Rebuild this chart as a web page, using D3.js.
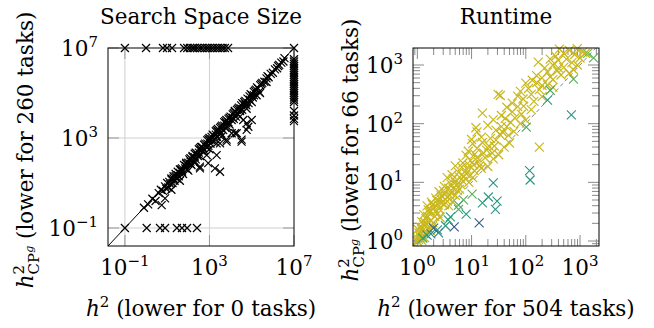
<!DOCTYPE html>
<html>
<head>
<meta charset="utf-8">
<script src="https://cdn.jsdelivr.net/npm/d3@7"></script>
<style>
  body { margin: 0; background: #fff; }
</style>
</head>
<body>
<div id="chart"></div>
<script>
// all values are log10 exponents

// search space size: h2 (x) vs h2_CPg (y)
const searchTopRow = [-1, 0.0, 0.8, 0.99, 1.23, 1.8, 1.95, 2.08, 2.2, 2.3, 2.42, 2.55, 2.65, 2.79, 2.9, 3.02, 3.14, 3.26, 3.38, 3.5, 3.62, 3.73, 3.88, 7]
const searchRightCol = [6.5, 6.4, 6.3, 6.2, 6.1, 6.0, 5.9, 5.8, 5.7, 5.6, 5.5, 5.4, 5.3, 5.2, 5.1, 5.0, 4.9, 4.8, 4.7, 4.6, 4.2, 4.0, 3.85, 3.75]
const searchBottomRow = [-1, 0.03, 0.66, 0.9, 1.46, 1.7, 1.94, 2.41]
const searchDiagonal = [
  [-0.1,-0.1],[0.1,0.05],[0.3,0.3],[0.45,0.2],[0.6,0.55],[0.7,0.7],[0.8,0.65],[0.9,0.85],[1.0,1.0],[1.05,0.8],
  [1.1,1.05],[1.2,1.15],[1.25,1.0],[1.3,1.3],[1.4,1.3],[1.45,1.2],[1.5,1.5],[1.6,1.45],[1.65,1.6],[1.7,1.5],
  [1.8,1.8],[1.85,1.65],[1.9,1.85],[2.0,1.9],[2.05,2.05],[2.1,1.85],[2.2,2.15],[2.25,2.0],[2.3,2.3],[2.4,2.3],
  [2.45,2.2],[2.5,2.5],[2.6,2.45],[2.65,2.6],[2.7,2.4],[2.8,2.75],[2.85,2.6],[2.9,2.9],[3.0,2.9],[3.05,2.75],
  [3.1,3.05],[3.2,3.1],[3.25,2.95],[3.3,3.3],[3.4,3.3],[3.45,3.15],[3.5,3.45],[3.6,3.55],[3.65,3.35],[3.7,3.7],
  [3.8,3.65],[3.85,3.5],[3.9,3.85],[4.0,3.95],[4.05,3.8],[4.1,4.05],[4.2,4.15],[4.25,3.95],[4.3,4.25],[4.4,4.35],
  [4.45,4.2],[4.5,4.45],[4.6,4.5],[4.7,4.65],[4.75,4.45],[4.8,4.75],[4.9,4.85],[5.0,4.9],[5.05,4.8],[5.1,5.05],
  [5.2,5.15],[5.3,5.2],[5.35,5.05],[5.4,5.35],[5.5,5.45],[5.6,5.5],[5.7,5.65],[5.8,5.7],[5.9,5.85],[6.0,5.9],
  [6.1,6.05],[6.2,6.1],[6.3,6.25],[6.4,6.35],[6.5,6.4],
  [0.95,0.75],[1.15,0.95],[1.35,1.1],[1.55,1.3],[1.75,1.4],[1.95,1.6],[2.15,1.8],[2.35,2.05],[2.55,2.2],[2.75,2.45],
  [2.95,2.65],[3.15,2.85],[3.35,3.05],[3.55,3.2],[3.75,3.45],[3.95,3.6],[4.15,3.85],[4.35,4.05],[4.55,4.25],[4.85,4.55],
  [1.4,1.4],[1.6,1.6],[1.9,1.9],[2.1,2.1],[2.35,2.35],[2.55,2.55],[2.75,2.7],[2.95,2.95],[3.15,3.15],[3.35,3.35],
  [3.55,3.5],[3.75,3.75],[3.95,3.9],[4.15,4.1],[4.35,4.3],[4.55,4.55],[4.65,4.6],[4.95,4.95],[5.15,5.1],[5.45,5.4],
  [1.2,1.2],[1.7,1.65],[2.2,2.2],[2.6,2.6],[3.0,3.0],[3.4,3.4],[3.8,3.8],[4.2,4.2],[5.25,5.25],[5.75,5.75],[6.25,6.2],[6.55,6.55],
  [1.3,1.2],[1.5,1.35],[1.7,1.55],[1.9,1.75],[2.1,1.95],[2.3,2.15],[2.5,2.35],[2.7,2.55],[2.9,2.75],[3.1,2.95],
  [3.3,3.15],[3.5,3.3],[3.7,3.55],[3.9,3.7],[4.1,3.9],[4.3,4.1],[4.5,4.3],[4.7,4.5],[4.9,4.7],[5.1,4.9]
]
const searchBelow = [
  [4.21,3.21],[4.76,3.65],[4.44,3.95],[4.84,3.5],[4.52,2.84],[3.34,2.24],[2.55,1.73],[4.6,3.8],[5.0,3.8],[4.29,3.21],
  [4.76,3.36],[4.52,2.93],[3.81,2.93],[4.05,3.21],[3.5,2.76],[3.34,2.76],[3.81,2.84],[2.87,2.24],[2.94,1.88],[2.55,1.65],
  [3.26,1.65],[3.5,1.5],[0.74,0.02],[0.9,0.32],[5.23,4.9],[5.0,4.6],[4.76,4.3],[5.7,5.49],[5.39,5.0],[3.0,2.5],
  [3.6,3.1],[2.3,1.9],[2.0,1.55],[1.6,1.1],[1.2,0.7]
]

// runtime: h2 (x) vs h2_CPg (y); shade 0 = dark blue .. 1 = yellow
const runtimeYellow = [
  [0.02,0.03],[0.06,0.05],[0.1,0.08],[0.04,0.09],[0.13,0.06],[0.0,0.0],[0.08,0.01],
  [0.03,0.14],[0.09,0.17],[0.15,0.12],[0.2,0.22],[0.05,0.24],[0.12,0.27],[0.24,0.18],[0.17,0.29],[0.28,0.25],[0.01,0.2],
  [0.08,0.33],[0.16,0.38],[0.25,0.35],[0.32,0.42],[0.12,0.45],[0.22,0.48],[0.38,0.47],[0.29,0.31],[0.42,0.4],
  [0.2,0.53],[0.3,0.57],[0.4,0.55],[0.5,0.62],[0.26,0.66],[0.36,0.69],[0.58,0.6],[0.45,0.65],[0.65,0.67],[0.18,0.6],
  [0.34,0.73],[0.44,0.77],[0.55,0.75],[0.62,0.82],[0.48,0.86],[0.7,0.78],[0.78,0.88],[0.4,0.84],[0.58,0.9],
  [0.5,0.93],[0.62,0.97],[0.72,0.95],[0.84,1.02],[0.66,1.06],[0.95,1.0],[0.55,1.08],[0.78,1.09],[1.02,1.08],
  [0.64,1.13],[0.76,1.17],[0.9,1.15],[1.05,1.2],[0.82,1.26],[1.18,1.24],[0.7,1.28],[0.96,1.29],[1.3,1.27],
  [0.84,1.33],[0.98,1.37],[1.12,1.35],[1.25,1.42],[0.9,1.46],[1.4,1.4],[1.06,1.48],[1.5,1.47],
  [0.94,1.53],[1.1,1.58],[1.28,1.55],[1.42,1.62],[1.02,1.66],[1.6,1.6],[1.2,1.68],[1.7,1.67],
  [1.0,1.73],[1.18,1.77],[1.35,1.75],[1.52,1.82],[1.68,1.8],[1.1,1.86],[1.78,1.87],[1.45,1.89],
  [1.08,1.93],[1.3,1.97],[1.55,1.95],[1.72,2.02],[1.9,2.0],[1.4,2.07],[2.0,2.06],[1.62,2.09],
  [1.2,2.18],[1.55,2.14],[1.75,2.2],[1.92,2.16],[2.1,2.24],[1.65,2.28],[1.85,2.29],
  [1.49,2.5],[1.53,2.48],[1.75,2.35],[1.95,2.42],[2.15,2.38],[2.3,2.46],[1.85,2.47],
  [1.9,2.55],[2.05,2.6],[2.25,2.58],[2.4,2.66],[2.0,2.69],[2.5,2.62],[2.2,2.7],
  [2.12,2.74],[2.3,2.78],[2.5,2.75],[2.65,2.83],[2.4,2.88],[2.8,2.86],[2.2,2.82],[2.58,2.9],
  [2.23,3.05],[2.35,2.95],[2.5,3.0],[2.7,2.96],[2.85,3.04],[2.6,3.08],[2.95,3.0],[2.45,3.1],
  [2.55,3.15],[2.7,3.2],[2.8,3.25],[2.9,3.18],[3.05,3.22],[2.62,3.27],[2.95,3.28],[3.1,3.2],
  [2.25,1.6],
  [0.05,0.12],[0.1,0.22],[0.14,0.32],[0.19,0.42],[0.24,0.52],[0.28,0.62],[0.33,0.5],[0.38,0.62],[0.43,0.72],[0.5,0.8],
  [0.55,0.68],[0.6,0.78],[0.66,0.9],[0.7,1.0],[0.74,0.86],[0.8,0.96],[0.86,1.1],[0.92,1.22],[0.98,1.12],[1.04,1.3],
  [1.1,1.42],[1.15,1.28],[1.22,1.5],[1.32,1.62],[1.38,1.5],[1.45,1.72],[1.58,1.85],[1.65,1.95],[1.8,2.1],[1.96,2.3],
  [2.1,2.5],[2.3,2.65],[2.45,2.8],[2.6,2.95],[2.75,3.1],[2.88,2.92],[3.0,3.12]
]
const runtimeShaded = [
  [2.07,1.2,0.4],[2.08,1.04,0.4],[1.4,0.99,0.4],[1.01,0.8,0.65],[1.2,0.65,0.5],[1.31,0.75,0.45],[1.47,0.68,0.4],
  [1.44,0.54,0.4],[1.14,0.31,0.12],[0.68,0.24,0.08],[0.9,0.46,0.45],[0.76,0.54,0.6],[0.85,0.7,0.65],[0.76,0.61,0.6],
  [0.57,0.36,0.5],[0.52,0.26,0.45],[0.37,0.19,0.4],[0.39,0.14,0.3],[0.3,0.22,0.15],[0.61,0.41,0.5],[0.18,0.1,0.4],
  [2.01,1.94,0.6],[2.4,2.4,0.45],[2.45,2.57,0.6],[2.84,2.15,0.4],[2.88,2.76,0.65],[3.14,3.2,0.75],[3.25,3.12,0.65],
  [0.1,0.05,0.5],[0.25,0.12,0.3]
]

const W = 654, H = 328
const FONT = '"DejaVu Serif", serif'
const FS = 21.5, FSS = 15
const shade = d3.scaleLinear()
  .domain([0, 0.25, 0.5, 0.75, 1])
  .range(["#3e3f8a", "#2f7d8c", "#2aa07a", "#7ab844", "#c9b81d"])

let svg = d3.select('#chart').append('svg')
  .attr('width', W).attr('height', H)
  .style('font-family', FONT)

function cross(s) {
  return `M${-s},${-s}L${s},${s}M${-s},${s}L${s},${-s}`
}

function txt(x, y, anchor) {
  return svg.append('text').attr('x', x).attr('y', y)
    .attr('text-anchor', anchor).attr('font-size', FS)
    .attr('font-family', FONT).attr('fill', '#000')
}

function powText(t, e) {
  t.append('tspan').text('10')
  t.append('tspan').attr('font-size', FSS).attr('dy', -9).text(e < 0 ? '\u2212' + (-e) : e)
}

function ylabel(x, y, tasks) {
  let t = txt(0, 0, 'middle').attr('transform', `translate(${x},${y}) rotate(-90)`)
  t.append('tspan').attr('font-style', 'italic').text('h')
  t.append('tspan').attr('font-size', FSS).attr('dy', -9).text('2')
  t.append('tspan').attr('font-size', FSS).attr('dx', -9.5).attr('dy', 15).text('CP')
  t.append('tspan').attr('font-size', 11).attr('font-style', 'italic').attr('dy', -6).text('g')
  t.append('tspan').attr('dy', 0).text(` (lower for ${tasks} tasks)`)
}

function xlabel(x, y, tasks) {
  let t = txt(x, y, 'middle')
  t.append('tspan').attr('font-style', 'italic').text('h')
  t.append('tspan').attr('font-size', FSS).attr('dy', -9).text('2')
  t.append('tspan').attr('dy', 9).text(` (lower for ${tasks} tasks)`)
}

// ---------- left: search space size ----------
let xL = d3.scaleLog().domain([10 ** -1.8, 1e7]).range([108, 294])
let yL = d3.scaleLog().domain([10 ** -1.8, 1e7]).range([246, 48])
let majorL = [-1, 3, 7]

let gL = svg.append('g')
gL.selectAll('.gx').data([-1, 3]).enter().append('line')
  .attr('x1', d => xL(10 ** d)).attr('x2', d => xL(10 ** d))
  .attr('y1', 48).attr('y2', 246).attr('stroke', '#cfcfcf')
gL.selectAll('.gy').data([-1, 3]).enter().append('line')
  .attr('y1', d => yL(10 ** d)).attr('y2', d => yL(10 ** d))
  .attr('x1', 108).attr('x2', 294).attr('stroke', '#cfcfcf')

// ticks (inside, both sides)
majorL.forEach(d => {
  let px = xL(10 ** d), py = yL(10 ** d)
  gL.append('line').attr('x1', px).attr('x2', px).attr('y1', 246).attr('y2', 235).attr('stroke', '#999')
  gL.append('line').attr('x1', px).attr('x2', px).attr('y1', 48).attr('y2', 59).attr('stroke', '#999')
  gL.append('line').attr('y1', py).attr('y2', py).attr('x1', 108).attr('x2', 119).attr('stroke', '#999')
  gL.append('line').attr('y1', py).attr('y2', py).attr('x1', 294).attr('x2', 283).attr('stroke', '#999')
})

gL.append('line')
  .attr('x1', xL(10 ** -1.8)).attr('y1', yL(10 ** -1.8))
  .attr('x2', xL(1e7)).attr('y2', yL(1e7))
  .attr('stroke', '#000')

let leftPts = []
searchTopRow.forEach(x => leftPts.push([x, 7]))
searchRightCol.forEach(y => leftPts.push([7, y]))
searchBottomRow.forEach(x => leftPts.push([x, -1]))
searchDiagonal.forEach(p => leftPts.push(p))
searchBelow.forEach(p => leftPts.push(p))

gL.selectAll('.mk').data(leftPts).enter().append('path')
  .attr('d', cross(4))
  .attr('transform', d => `translate(${xL(10 ** d[0])},${yL(10 ** d[1])})`)
  .attr('fill', 'none').attr('stroke', '#000').attr('stroke-width', 1.2)

gL.append('rect').attr('x', 108).attr('y', 48).attr('width', 186).attr('height', 198)
  .attr('fill', 'none').attr('stroke', '#000')

majorL.forEach(d => {
  powText(txt(xL(10 ** d), 275, 'middle'), d)
  powText(txt(98, yL(10 ** d) + 8, 'end'), d)
})

txt(201, 24, 'middle').text('Search Space Size')
xlabel(201, 316, 0)
ylabel(33, 150, 260)

// ---------- right: runtime ----------
let xR = d3.scaleLog().domain([10 ** -0.08, 10 ** 3.35]).range([413, 599])
let yR = d3.scaleLog().domain([10 ** -0.085, 10 ** 3.29]).range([246, 48])
let majorR = [0, 1, 2, 3]

let gR = svg.append('g')

let minorX = [], minorY = []
for (let e = -1; e <= 3; e++) {
  for (let k = 2; k <= 9; k++) {
    let v = k * 10 ** e
    if (v > xR.domain()[0] && v < xR.domain()[1]) minorX.push(v)
    if (v > yR.domain()[0] && v < yR.domain()[1]) minorY.push(v)
  }
}

function tickX(v, len) {
  gR.append('line').attr('x1', xR(v)).attr('x2', xR(v)).attr('y1', 246).attr('y2', 246 - len).attr('stroke', '#8a8a8a')
  gR.append('line').attr('x1', xR(v)).attr('x2', xR(v)).attr('y1', 48).attr('y2', 48 + len).attr('stroke', '#8a8a8a')
}
function tickY(v, len) {
  gR.append('line').attr('y1', yR(v)).attr('y2', yR(v)).attr('x1', 413).attr('x2', 413 + len).attr('stroke', '#8a8a8a')
  gR.append('line').attr('y1', yR(v)).attr('y2', yR(v)).attr('x1', 599).attr('x2', 599 - len).attr('stroke', '#8a8a8a')
}
minorX.forEach(v => tickX(v, 7))
minorY.forEach(v => tickY(v, 7))
majorR.forEach(d => { tickX(10 ** d, 11); tickY(10 ** d, 11) })

let lo = Math.max(xR.domain()[0], yR.domain()[0]), hi = Math.min(xR.domain()[1], yR.domain()[1])
gR.append('line')
  .attr('x1', xR(lo)).attr('y1', yR(lo)).attr('x2', xR(hi)).attr('y2', yR(hi))
  .attr('stroke', '#888').attr('stroke-dasharray', '4,3')

gR.selectAll('.yl').data(runtimeYellow).enter().append('path')
  .attr('d', cross(4.5))
  .attr('transform', d => `translate(${xR(10 ** d[0])},${yR(10 ** d[1])})`)
  .attr('fill', 'none').attr('stroke', shade(1)).attr('stroke-width', 1.2)

gR.selectAll('.sh').data(runtimeShaded).enter().append('path')
  .attr('d', cross(4.5))
  .attr('transform', d => `translate(${xR(10 ** d[0])},${yR(10 ** d[1])})`)
  .attr('fill', 'none').attr('stroke', d => shade(d[2])).attr('stroke-width', 1.1)

gR.append('rect').attr('x', 413).attr('y', 48).attr('width', 186).attr('height', 198)
  .attr('fill', 'none').attr('stroke', '#000')

majorR.forEach(d => {
  powText(txt(xR(10 ** d), 275, 'middle'), d)
  powText(txt(403, yR(10 ** d) + 8, 'end'), d)
})

txt(506, 24, 'middle').text('Runtime')
xlabel(506, 316, 504)
ylabel(358, 150, 66)
</script>
</body>
</html>
